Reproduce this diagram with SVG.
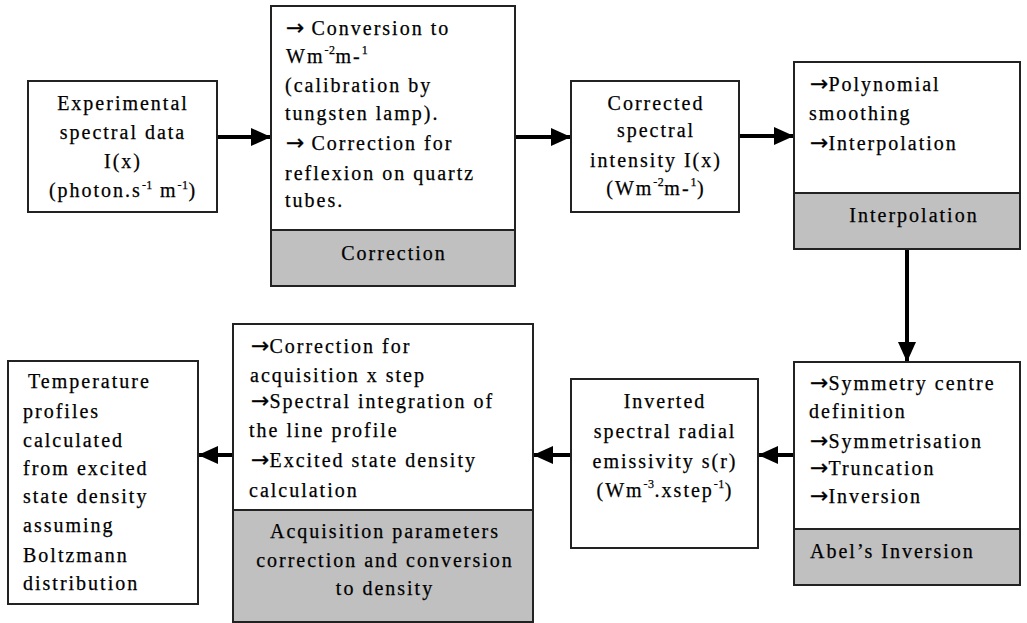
<svg xmlns="http://www.w3.org/2000/svg" width="1027" height="623" viewBox="0 0 1027 623" font-family="'Liberation Serif', 'Times New Roman', serif">
<style>
.box{fill:#fff;stroke:#222;stroke-width:2}
.lab{fill:#c0c0c0;stroke:#222;stroke-width:2}
text{font-size:20px;letter-spacing:2px;fill:#000;stroke:#000;stroke-width:0.25}
.c{text-anchor:middle}
.sup{font-size:12px;letter-spacing:0.5px}
.ar{font-family:'DejaVu Sans',sans-serif;font-size:22px;letter-spacing:0}
.con{stroke:#000;stroke-width:4;fill:none}
</style>
<defs>
<marker id="ah" markerUnits="userSpaceOnUse" markerWidth="20" markerHeight="18" refX="20" refY="9" orient="auto">
<path d="M0,0 L20,9 L0,18 z" fill="#000"/>
</marker>
</defs>
<rect width="1027" height="623" fill="#fff"/>

<g id="connectors">
<line class="con" x1="217" y1="137" x2="271" y2="137" marker-end="url(#ah)"/>
<line class="con" x1="515" y1="137" x2="571" y2="137" marker-end="url(#ah)"/>
<line class="con" x1="739" y1="136" x2="794" y2="136" marker-end="url(#ah)"/>
<line class="con" x1="907" y1="249" x2="907" y2="362" marker-end="url(#ah)"/>
<line class="con" x1="794" y1="455" x2="758" y2="455" marker-end="url(#ah)"/>
<line class="con" x1="571" y1="455" x2="533" y2="455" marker-end="url(#ah)"/>
<line class="con" x1="233" y1="455" x2="198" y2="455" marker-end="url(#ah)"/>
</g>

<g id="experimental">
<rect class="box" x="28" y="81" width="189" height="131"/>
<text class="c" x="123" y="110">Experimental</text>
<text class="c" x="123" y="139">spectral data</text>
<text class="c" x="123" y="168">I(x)</text>
<text class="c" x="123" y="197">(photon.s<tspan class="sup" dy="-8">-1</tspan><tspan dy="8"> m</tspan><tspan class="sup" dy="-8">-1</tspan><tspan dy="8">)</tspan></text>
</g>

<g id="correction">
<rect class="box" x="271" y="6" width="244" height="224"/>
<rect class="lab" x="271" y="230" width="244" height="56"/>
<text x="286" y="35"><tspan class="ar">→</tspan> Conversion to</text>
<text x="286" y="63">Wm<tspan class="sup" dy="-9">-2</tspan><tspan dy="9">m-</tspan><tspan class="sup" dy="-9">1</tspan></text>
<text x="285" y="92">(calibration by</text>
<text x="285" y="120">tungsten lamp).</text>
<text x="286" y="150"><tspan class="ar">→</tspan> Correction for</text>
<text x="285" y="180">reflexion on quartz</text>
<text x="285" y="207">tubes.</text>
<text class="c" x="394" y="260">Correction</text>
</g>

<g id="corrected">
<rect class="box" x="571" y="81" width="168" height="131"/>
<text class="c" x="656" y="110">Corrected</text>
<text class="c" x="656" y="137">spectral</text>
<text class="c" x="656" y="167">intensity I(x)</text>
<text class="c" x="656" y="195">(Wm<tspan class="sup" dy="-9">-2</tspan><tspan dy="9">m-</tspan><tspan class="sup" dy="-9">1</tspan><tspan dy="9">)</tspan></text>
</g>

<g id="interpolation">
<rect class="box" x="794" y="62" width="226" height="131"/>
<rect class="lab" x="794" y="193" width="226" height="56"/>
<text x="810" y="91"><tspan class="ar">→</tspan>Polynomial</text>
<text x="809" y="120">smoothing</text>
<text x="810" y="150"><tspan class="ar">→</tspan>Interpolation</text>
<text class="c" x="914" y="222">Interpolation</text>
</g>

<g id="abel">
<rect class="box" x="794" y="362" width="226" height="167"/>
<rect class="lab" x="794" y="529" width="226" height="56"/>
<text x="810" y="390"><tspan class="ar">→</tspan>Symmetry centre</text>
<text x="809" y="418">definition</text>
<text x="810" y="448"><tspan class="ar">→</tspan>Symmetrisation</text>
<text x="810" y="475"><tspan class="ar">→</tspan>Truncation</text>
<text x="810" y="503"><tspan class="ar">→</tspan>Inversion</text>
<text x="810" y="558">Abel’s Inversion</text>
</g>

<g id="inverted">
<rect class="box" x="571" y="379" width="187" height="169"/>
<text class="c" x="665" y="408">Inverted</text>
<text class="c" x="665" y="438">spectral radial</text>
<text class="c" x="665" y="468">emissivity s(r)</text>
<text class="c" x="665" y="497">(Wm<tspan class="sup" dy="-9">-3</tspan><tspan dy="9">.xstep</tspan><tspan class="sup" dy="-9">-1</tspan><tspan dy="9">)</tspan></text>
</g>

<g id="acquisition">
<rect class="box" x="233" y="324" width="300" height="186"/>
<rect class="lab" x="233" y="510" width="300" height="112"/>
<text x="251" y="353"><tspan class="ar">→</tspan>Correction for</text>
<text x="250" y="382">acquisition x step</text>
<text x="251" y="408"><tspan class="ar">→</tspan>Spectral integration of</text>
<text x="249" y="437">the line profile</text>
<text x="251" y="467"><tspan class="ar">→</tspan>Excited state density</text>
<text x="249" y="497">calculation</text>
<text class="c" x="385" y="538">Acquisition parameters</text>
<text class="c" x="385" y="567">correction and conversion</text>
<text class="c" x="385" y="595">to density</text>
</g>

<g id="temperature">
<rect class="box" x="8" y="361" width="190" height="243"/>
<text x="28" y="388">Temperature</text>
<text x="23" y="418">profiles</text>
<text x="23" y="447">calculated</text>
<text x="23" y="475">from excited</text>
<text x="23" y="503">state density</text>
<text x="23" y="532">assuming</text>
<text x="23" y="562">Boltzmann</text>
<text x="23" y="590">distribution</text>
</g>
</svg>
